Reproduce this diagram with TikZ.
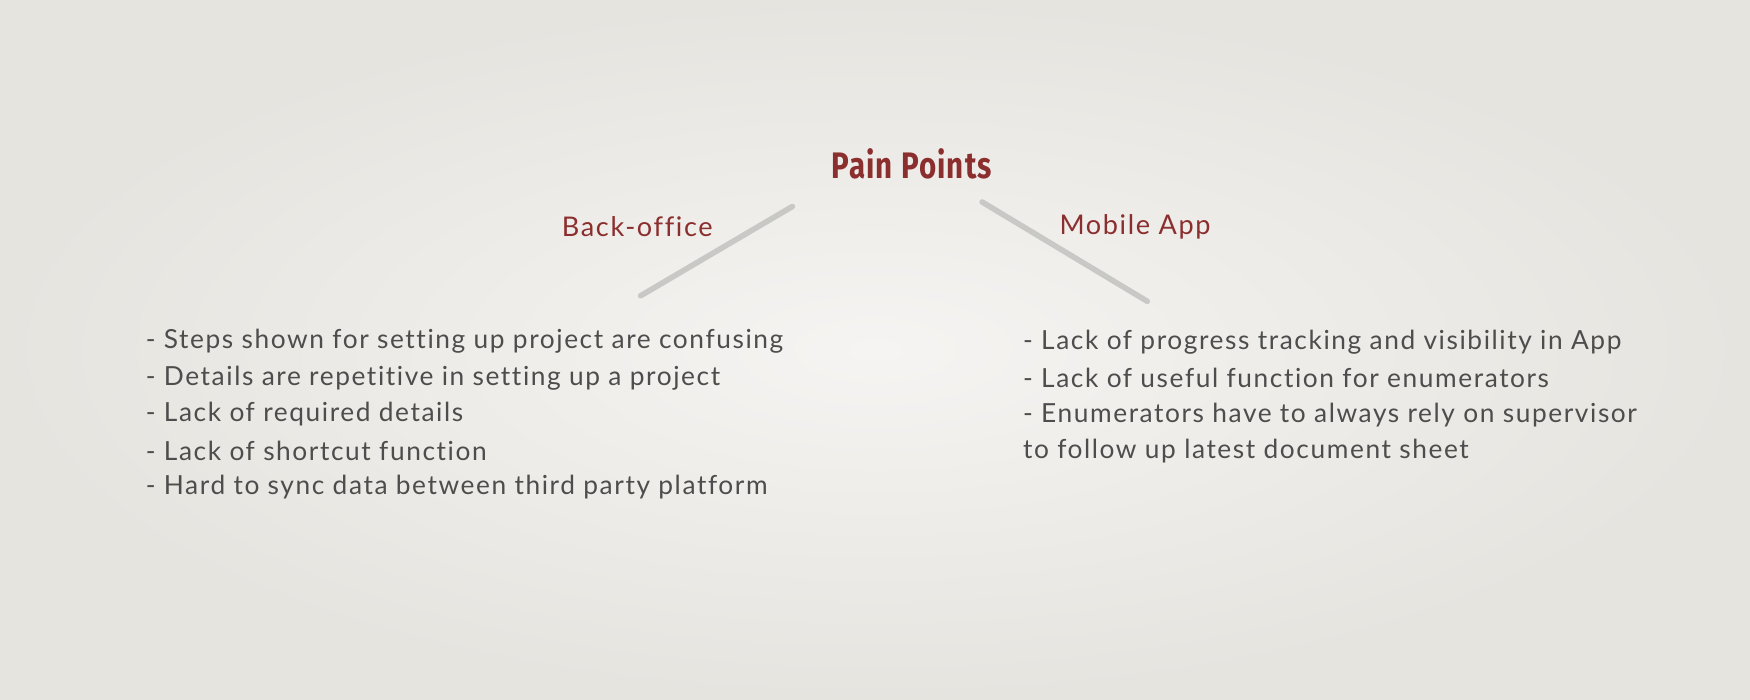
\documentclass[tikz,border=0pt]{standalone}
\usepackage{fontspec}
\setmainfont[Ligatures={NoCommon}]{Lato}
\newfontfamily\titlefont{Fira Sans}
\definecolor{bgcol}{HTML}{F5F4F2}
\definecolor{edgecol}{HTML}{E6E4DF}
\definecolor{painred}{HTML}{8B2E2E}
\definecolor{bodygray}{HTML}{4D4D4D}
\definecolor{linegray}{HTML}{C8C8C6}
\begin{document}
\begin{tikzpicture}[x=0.01cm,y=-0.01cm,
    heading/.style={text=painred, font=\fontsize{6.9}{8}\selectfont\addfontfeature{LetterSpace=6}},
    item/.style={anchor=west, inner sep=0pt, text=bodygray, font=\fontsize{6.7}{8}\selectfont\addfontfeature{LetterSpace=6}},
    branch/.style={draw=linegray, line width=0.05cm, line cap=round}]
    % background
    \shade[inner color=bgcol, outer color=edgecol] (0,0) rectangle (1568,627);
    \useasboundingbox (0,0) rectangle (1568,627);

    % title and headings
    \node[text=painred, xscale=0.8, font=\titlefont\bfseries\fontsize{9.4}{11}\selectfont\addfontfeature{LetterSpace=4}] (title) at (817,147) {Pain Points};
    \node[heading] (back) at (571,203) {Back-office};
    \node[heading] (mobile) at (1017,203) {Mobile App};

    % branch lines
    \coordinate (lTop) at (710,185);
    \coordinate (lEnd) at (574,265);
    \coordinate (rTop) at (880,181);
    \coordinate (rEnd) at (1028,270);
    \draw[branch] (lTop) -- (lEnd);
    \draw[branch] (rTop) -- (rEnd);

    % back-office list
    \node[item] (b1) at (130,306) {- Steps shown for setting up project are confusing};
    \node[item] (b2) at (130,339) {- Details are repetitive in setting up a project};
    \node[item] (b3) at (130,371) {- Lack of required details};
    \node[item] (b4) at (130,404) {- Lack of shortcut function};
    \node[item] (b5) at (130,436) {- Hard to sync data between third party platform};

    % mobile app list
    \node[item] (m1) at (916,307) {- Lack of progress tracking and visibility in App};
    \node[item] (m2) at (916,339) {- Lack of useful function for enumerators};
    \node[item] (m3) at (916,372) {- Enumerators have to always rely on supervisor};
    \node[item] (m4) at (916,404) {to follow up latest document sheet};
\end{tikzpicture}
\end{document}
